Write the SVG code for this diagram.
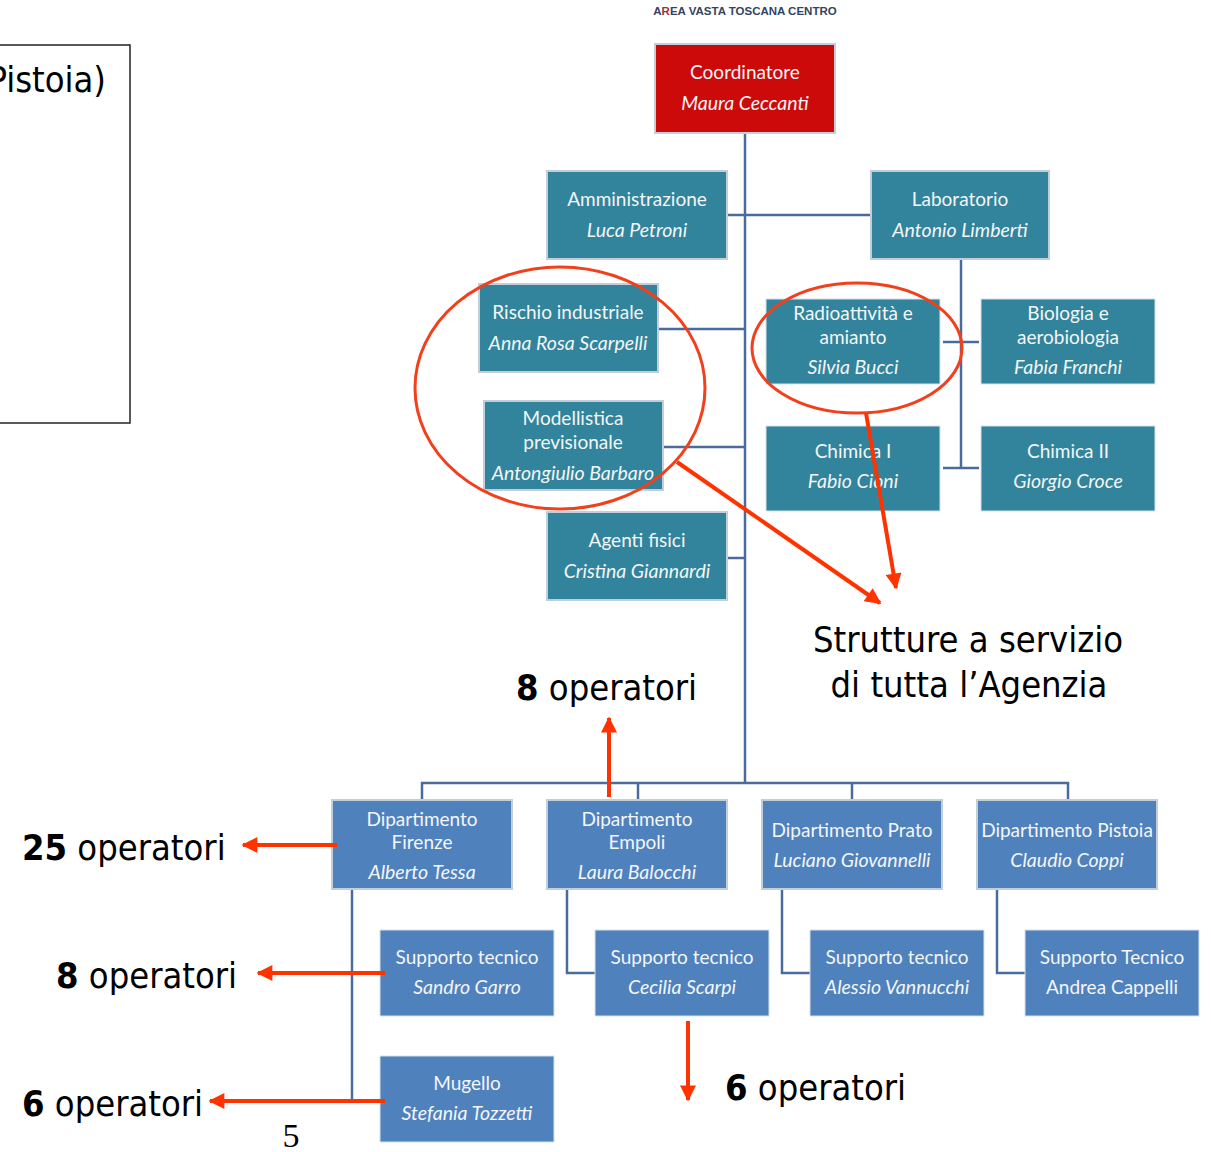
<svg xmlns="http://www.w3.org/2000/svg" width="1211" height="1152" viewBox="0 0 1211 1152">
<defs>
<style>
.bg{fill:#ffffff}
.teal{fill:#31849b}
.blue{fill:#4f81bd}
.red{fill:#cc0a0a}
.bev{stroke:#c3cfd8;stroke-width:2}
.flat{stroke:#d6e2ec;stroke-width:1}
.bt{font-family:Lato,"Open Sans","Liberation Sans",sans-serif;font-size:19px;fill:#f4f6f8;text-anchor:middle}
.it{font-style:italic;font-size:19.5px}
.conn{stroke:#4a6c9c;stroke-width:2.5;fill:none}
.ra{stroke:#ff3300;stroke-width:4;fill:none}
.ell{stroke:#f2401c;stroke-width:3;fill:none}
.big{font-family:"DejaVu Sans Condensed","DejaVu Sans",sans-serif;font-stretch:condensed;font-size:36px;fill:#000}
.b{font-weight:bold}
</style>
<marker id="ah" viewBox="0 0 10 10" refX="9" refY="5" markerUnits="userSpaceOnUse" markerWidth="18" markerHeight="16" orient="auto">
<path d="M0,0 L10,5 L0,10 Z" fill="#ff3300"/>
</marker>
</defs>
<rect class="bg" x="0" y="0" width="1211" height="1152"/>

<g id="header">
<text x="745" y="15" font-family="'Liberation Sans',Arial,sans-serif" font-size="11.5" font-weight="bold" fill="#34435f" text-anchor="middle">A<tspan fill="#a0343a">R</tspan>EA VASTA TOSCANA CENTRO</text>
</g>

<g id="left-frame">
<rect x="-10" y="45" width="140" height="378" fill="none" stroke="#222" stroke-width="1.5"/>
<text class="big" x="106" y="92" text-anchor="end">Pistoia)</text>
</g>

<g id="connectors">
<line class="conn" x1="745" y1="133" x2="745" y2="783"/>
<line class="conn" x1="727" y1="215" x2="871" y2="215"/>
<line class="conn" x1="658" y1="329" x2="745" y2="329"/>
<line class="conn" x1="663" y1="447" x2="745" y2="447"/>
<line class="conn" x1="727" y1="558" x2="745" y2="558"/>
<line class="conn" x1="961" y1="259" x2="961" y2="468"/>
<line class="conn" x1="943" y1="342" x2="979" y2="342"/>
<line class="conn" x1="943" y1="468" x2="979" y2="468"/>
<polyline class="conn" points="422,800 422,783 1068,783 1068,800"/>
<line class="conn" x1="638" y1="783" x2="638" y2="800"/>
<line class="conn" x1="852" y1="783" x2="852" y2="800"/>
<line class="conn" x1="352" y1="889" x2="352" y2="1100"/>
<polyline class="conn" points="567,889 567,973 595,973"/>
<polyline class="conn" points="782,889 782,973 810,973"/>
<polyline class="conn" points="997,889 997,973 1025,973"/>
</g>

<g id="coordinatore">
<rect class="red bev" x="655" y="44" width="180" height="89"/>
<text class="bt" x="745" y="79">Coordinatore</text>
<text class="bt it" x="745" y="110">Maura Ceccanti</text>
</g>

<g id="amministrazione">
<rect class="teal bev" x="547" y="171" width="180" height="88"/>
<text class="bt" x="637" y="206">Amministrazione</text>
<text class="bt it" x="637" y="237">Luca Petroni</text>
</g>

<g id="laboratorio">
<rect class="teal bev" x="871" y="171" width="178" height="88"/>
<text class="bt" x="960" y="206">Laboratorio</text>
<text class="bt it" x="960" y="237">Antonio Limberti</text>
</g>

<g id="rischio">
<rect class="teal bev" x="479" y="284" width="179" height="88"/>
<text class="bt" x="568" y="319">Rischio industriale</text>
<text class="bt it" x="568" y="350">Anna Rosa Scarpelli</text>
</g>

<g id="modellistica">
<rect class="teal bev" x="484" y="401" width="179" height="89"/>
<text class="bt" x="573" y="425">Modellistica</text>
<text class="bt" x="573" y="449">previsionale</text>
<text class="bt it" x="573" y="480">Antongiulio Barbaro</text>
</g>

<g id="agenti">
<rect class="teal bev" x="547" y="512" width="180" height="88"/>
<text class="bt" x="637" y="547">Agenti fisici</text>
<text class="bt it" x="637" y="578">Cristina Giannardi</text>
</g>

<g id="radioattivita">
<rect class="teal flat" x="766" y="299" width="174" height="85"/>
<text class="bt" x="853" y="320">Radioattività e</text>
<text class="bt" x="853" y="344">amianto</text>
<text class="bt it" x="853" y="374">Silvia Bucci</text>
</g>

<g id="biologia">
<rect class="teal flat" x="981" y="299" width="174" height="85"/>
<text class="bt" x="1068" y="320">Biologia e</text>
<text class="bt" x="1068" y="344">aerobiologia</text>
<text class="bt it" x="1068" y="374">Fabia Franchi</text>
</g>

<g id="chimica1">
<rect class="teal flat" x="766" y="426" width="174" height="85"/>
<text class="bt" x="853" y="458">Chimica I</text>
<text class="bt it" x="853" y="488">Fabio Cioni</text>
</g>

<g id="chimica2">
<rect class="teal flat" x="981" y="426" width="174" height="85"/>
<text class="bt" x="1068" y="458">Chimica II</text>
<text class="bt it" x="1068" y="488">Giorgio Croce</text>
</g>

<g id="dip-firenze">
<rect class="blue bev" x="332" y="800" width="180" height="89"/>
<text class="bt" x="422" y="826">Dipartimento</text>
<text class="bt" x="422" y="849">Firenze</text>
<text class="bt it" x="422" y="879">Alberto Tessa</text>
</g>

<g id="dip-empoli">
<rect class="blue bev" x="547" y="800" width="180" height="89"/>
<text class="bt" x="637" y="826">Dipartimento</text>
<text class="bt" x="637" y="849">Empoli</text>
<text class="bt it" x="637" y="879">Laura Balocchi</text>
</g>

<g id="dip-prato">
<rect class="blue bev" x="762" y="800" width="180" height="89"/>
<text class="bt" x="852" y="837">Dipartimento Prato</text>
<text class="bt it" x="852" y="867">Luciano Giovannelli</text>
</g>

<g id="dip-pistoia">
<rect class="blue bev" x="977" y="800" width="180" height="89"/>
<text class="bt" x="1067" y="837">Dipartimento Pistoia</text>
<text class="bt it" x="1067" y="867">Claudio Coppi</text>
</g>

<g id="st-garro">
<rect class="blue flat" x="380" y="930" width="174" height="86"/>
<text class="bt" x="467" y="964">Supporto tecnico</text>
<text class="bt it" x="467" y="994">Sandro Garro</text>
</g>

<g id="st-scarpi">
<rect class="blue flat" x="595" y="930" width="174" height="86"/>
<text class="bt" x="682" y="964">Supporto tecnico</text>
<text class="bt it" x="682" y="994">Cecilia Scarpi</text>
</g>

<g id="st-vannucchi">
<rect class="blue flat" x="810" y="930" width="174" height="86"/>
<text class="bt" x="897" y="964">Supporto tecnico</text>
<text class="bt it" x="897" y="994">Alessio Vannucchi</text>
</g>

<g id="st-cappelli">
<rect class="blue flat" x="1025" y="930" width="174" height="86"/>
<text class="bt" x="1112" y="964">Supporto Tecnico</text>
<text class="bt" x="1112" y="994">Andrea Cappelli</text>
</g>

<g id="mugello">
<rect class="blue flat" x="380" y="1056" width="174" height="86"/>
<text class="bt" x="467" y="1090">Mugello</text>
<text class="bt it" x="467" y="1120">Stefania Tozzetti</text>
</g>

<g id="annotations">
<ellipse class="ell" cx="560" cy="388" rx="145" ry="121"/>
<ellipse class="ell" cx="857" cy="348" rx="105" ry="65"/>
<line class="ra" x1="677" y1="462" x2="880" y2="603" marker-end="url(#ah)"/>
<line class="ra" x1="866" y1="413" x2="896" y2="588" marker-end="url(#ah)"/>
<line class="ra" x1="609" y1="797" x2="609" y2="718" marker-end="url(#ah)"/>
<line class="ra" x1="337" y1="845" x2="243" y2="845" marker-end="url(#ah)"/>
<line class="ra" x1="385" y1="973" x2="258" y2="973" marker-end="url(#ah)"/>
<line class="ra" x1="385" y1="1101" x2="210" y2="1101" marker-end="url(#ah)"/>
<line class="ra" x1="688" y1="1021" x2="688" y2="1100" marker-end="url(#ah)"/>
<text class="big" x="968" y="652" text-anchor="middle">Strutture a servizio</text>
<text class="big" x="969" y="697" text-anchor="middle">di tutta l’Agenzia</text>
<text class="big" x="516" y="700"><tspan class="b">8</tspan> operatori</text>
<text class="big" x="22" y="860"><tspan class="b">25</tspan> operatori</text>
<text class="big" x="56" y="988"><tspan class="b">8</tspan> operatori</text>
<text class="big" x="22" y="1116"><tspan class="b">6</tspan> operatori</text>
<text class="big" x="725" y="1100"><tspan class="b">6</tspan> operatori</text>
<text x="291" y="1147" font-family="'Liberation Serif','Times New Roman',serif" font-size="34" text-anchor="middle" fill="#000">5</text>
</g>
</svg>
